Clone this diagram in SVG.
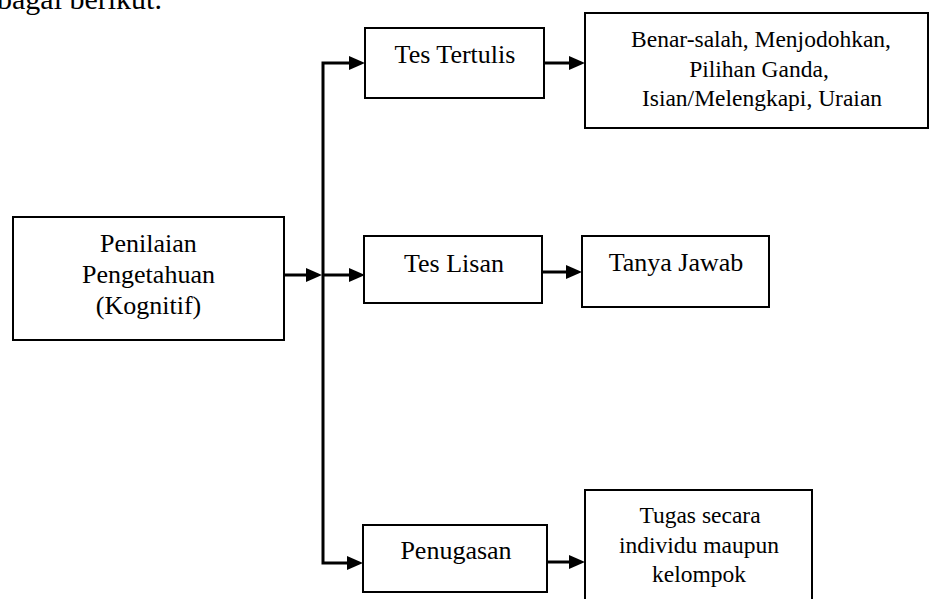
<svg xmlns="http://www.w3.org/2000/svg" width="931" height="599" viewBox="0 0 931 599">
  <style>
    .box { fill: #ffffff; stroke: #000000; stroke-width: 2; }
    .t { font-family: "Liberation Serif", "Times New Roman", serif; font-size: 26px; fill: #000000; text-anchor: middle; }
    .s { font-size: 23.5px; }
    .conn { fill: none; stroke: #000000; stroke-width: 3; stroke-linejoin: miter; }
  </style>
  <defs>
    <marker id="ah" markerUnits="userSpaceOnUse" markerWidth="16" markerHeight="14" refX="6" refY="7" orient="auto-start-reverse">
      <path d="M0,0 L16,7 L0,14 Z" fill="#000000"/>
    </marker>
  </defs>
  <rect width="931" height="599" fill="#ffffff"/>
  <text x="-3" y="9" font-family="'Liberation Serif', serif" font-size="30" fill="#000000">bagai berikut.</text>

  <g id="connectors">
    <path class="conn" d="M284,275 H312" marker-end="url(#ah)"/>
    <path class="conn" d="M355,63 H323 V563 H353" marker-start="url(#ah)" marker-end="url(#ah)"/>
    <path class="conn" d="M323,275 H355" marker-end="url(#ah)"/>
    <path class="conn" d="M544,63 H575" marker-end="url(#ah)"/>
    <path class="conn" d="M542,272 H572" marker-end="url(#ah)"/>
    <path class="conn" d="M547,562 H575" marker-end="url(#ah)"/>
  </g>

  <g id="penilaian">
    <rect class="box" x="13" y="217" width="271" height="123"/>
    <text class="t" x="148.5" y="252">Penilaian</text>
    <text class="t" x="148.5" y="283">Pengetahuan</text>
    <text class="t" x="148.5" y="314">(Kognitif)</text>
  </g>
  <g id="tes-tertulis">
    <rect class="box" x="365" y="28" width="179" height="70"/>
    <text class="t" x="455" y="63">Tes Tertulis</text>
  </g>
  <g id="bentuk-tertulis">
    <rect class="box" x="585" y="13" width="343" height="115"/>
    <text class="t s" x="761" y="47">Benar-salah, Menjodohkan,</text>
    <text class="t s" x="759" y="77">Pilihan Ganda,</text>
    <text class="t s" x="762" y="106">Isian/Melengkapi, Uraian</text>
  </g>
  <g id="tes-lisan">
    <rect class="box" x="364" y="236" width="178" height="67"/>
    <text class="t" x="454" y="272">Tes Lisan</text>
  </g>
  <g id="tanya-jawab">
    <rect class="box" x="582" y="236" width="187" height="71"/>
    <text class="t" x="676" y="271">Tanya Jawab</text>
  </g>
  <g id="penugasan">
    <rect class="box" x="363" y="525" width="184" height="67"/>
    <text class="t" x="456" y="559">Penugasan</text>
  </g>
  <g id="tugas">
    <rect class="box" x="585" y="490" width="227" height="120"/>
    <text class="t s" x="700" y="523">Tugas secara</text>
    <text class="t s" x="699" y="553">individu maupun</text>
    <text class="t s" x="699" y="582">kelompok</text>
  </g>
</svg>
